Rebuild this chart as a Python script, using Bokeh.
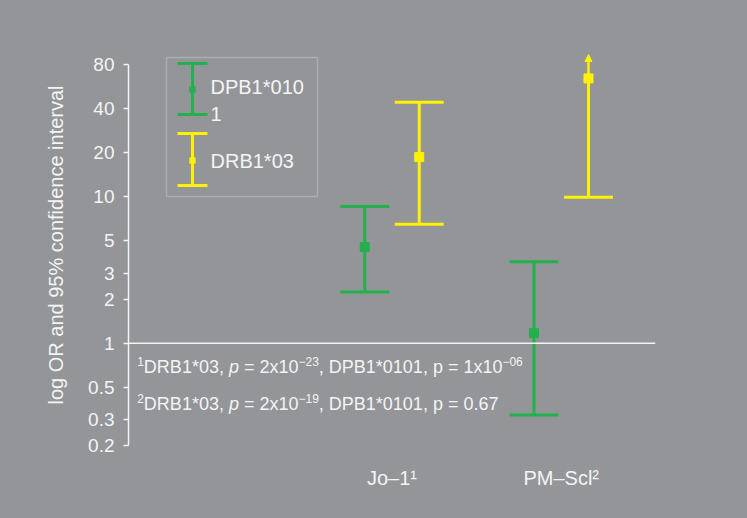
import numpy as np
from bokeh.plotting import figure
from bokeh.models import (ColumnDataSource, Range1d, FixedTicker, Span, Label,
                          Arrow, TeeHead, NormalHead, BoxAnnotation)
from bokeh.embed import file_html
from bokeh.resources import INLINE

# ---------------- data ----------------
categories = ["Jo-1", "PM-Scl"]
category_labels = ["Jo–1¹", "PM–Scl²"]
series_names = ["DPB1*0101", "DRB1*03"]

dpb_or = [4.54, 1.17]
dpb_lower = [2.24, 0.323]
dpb_upper = [8.61, 3.60]

drb_or = [18.7, 64.5]
drb_lower = [6.49, 9.95]
drb_upper = [44.3, 94.0]
drb_upper_open = [False, True]

y_ticks = [0.2, 0.3, 0.5, 1, 2, 3, 5, 10, 20, 40, 80]
y_tick_labels = ["0.2", "0.3", "0.5", "1", "2", "3", "5", "10", "20", "40", "80"]

# footnotes: (text, kind) with kind n = normal, i = italic, s = superscript
footnote_1 = [("1", "s"), ("DRB1*03, ", "n"), ("p", "i"), (" = 2x10", "n"), ("−23", "s"),
              (", DPB1*0101, p = 1x10", "n"), ("−06", "s")]
footnote_2 = [("2", "s"), ("DRB1*03, ", "n"), ("p", "i"), (" = 2x10", "n"), ("−19", "s"),
              (", DPB1*0101, p = 0.67", "n")]

# ---------------- style ----------------
BG = "#939598"
FG = "#f4f4f4"
GREEN = "#22b14c"
YELLOW = "#fff200"
FONT = "Liberation Sans"

# Arial / Liberation Sans advance widths (1/1000 em) for laying out rich text
ADV = {' ': 278, ',': 278, '.': 278, '*': 389, '=': 584, '−': 584, 'x': 500, 'p': 556,
       'D': 722, 'R': 722, 'B': 667, 'P': 667}
def text_width(s, size):
    return sum(ADV.get(ch, 556) for ch in s) * size / 1000.0

cat_pos = np.arange(len(categories)) + 1.0
dodge = 0.161

p = figure(width=747, height=518, y_axis_type="log",
           x_range=Range1d(-0.557, 2.557), y_range=Range1d(0.2, 110),
           output_backend="svg", toolbar_location=None,
           min_border_left=128, min_border_right=92,
           min_border_top=44, min_border_bottom=73,
           background_fill_color=BG, border_fill_color=BG,
           outline_line_color=None)
p.styles = {"background-color": BG}
p.grid.visible = False

# y axis
ya = p.yaxis[0]
ya.ticker = FixedTicker(ticks=y_ticks, minor_ticks=[])
ya.major_label_overrides = {t: l for t, l in zip(y_ticks, y_tick_labels)}
ya.bounds = (y_ticks[0], y_ticks[-1])
ya.axis_line_color = FG
ya.axis_line_width = 1.5
ya.major_tick_line_color = FG
ya.major_tick_line_width = 1.5
ya.major_tick_in = 0
ya.major_tick_out = 5
ya.minor_tick_line_color = None
ya.major_label_text_color = FG
ya.major_label_text_font = FONT
ya.major_label_text_font_size = "19px"
ya.major_label_standoff = 9
ya.axis_label = "log OR and 95% confidence interval"
ya.axis_label_text_color = FG
ya.axis_label_text_font = FONT
ya.axis_label_text_font_size = "20px"
ya.axis_label_text_font_style = "normal"
ya.axis_label_standoff = 18

# x axis
xa = p.xaxis[0]
xa.ticker = FixedTicker(ticks=list(cat_pos), minor_ticks=[])
xa.major_label_overrides = {int(x): l for x, l in zip(cat_pos, category_labels)}
xa.axis_line_color = None
xa.major_tick_line_color = None
xa.minor_tick_line_color = None
xa.major_label_text_color = FG
xa.major_label_text_font = FONT
xa.major_label_text_font_size = "20px"
xa.major_label_standoff = 15

# reference line at OR = 1
p.add_layout(Span(location=1, dimension="width", line_color=FG, line_width=1.5))

def draw_series(xs, ors, lows, ups, color, open_up=None):
    xs = np.asarray(xs, dtype=float)
    ors = np.asarray(ors, dtype=float)
    lows = np.asarray(lows, dtype=float)
    ups = np.asarray(ups, dtype=float)
    if open_up is None:
        open_up = np.zeros(len(xs), dtype=bool)
    open_up = np.asarray(open_up, dtype=bool)
    closed = ~open_up
    p.segment(x0=xs[closed], y0=lows[closed], x1=xs[closed], y1=ups[closed],
              line_color=color, line_width=3)
    p.segment(x0=xs[open_up], y0=lows[open_up], x1=xs[open_up], y1=ors[open_up],
              line_color=color, line_width=3)
    p.scatter(xs, lows, marker="dash", size=49, line_color=color, line_width=3)
    p.scatter(xs[closed], ups[closed], marker="dash", size=49, line_color=color, line_width=3)
    if open_up.any():
        src = ColumnDataSource(dict(x=xs[open_up], y0=ors[open_up], y1=ups[open_up]))
        p.add_layout(Arrow(x_start="x", y_start="y0", x_end="x", y_end="y1", source=src,
                           line_color=color, line_width=2.5,
                           end=NormalHead(size=7, fill_color=color, line_color=color, line_width=1)))
    p.scatter(xs, ors, marker="square", size=9, fill_color=color, line_color=color)

draw_series(cat_pos - dodge, dpb_or, dpb_lower, dpb_upper, GREEN)
draw_series(cat_pos + dodge, drb_or, drb_lower, drb_upper, YELLOW, drb_upper_open)

# ---------------- legend (screen units, frame-relative) ----------------
p.add_layout(BoxAnnotation(left=38, right=189, top=388, bottom=249,
                           left_units="screen", right_units="screen",
                           top_units="screen", bottom_units="screen",
                           fill_alpha=0, line_color="#e6e6e6", line_width=1.5))

def legend_item(y_lo, y_hi, y_mid, color, text, text_y):
    p.add_layout(Arrow(x_start=64, y_start=y_lo, x_end=64, y_end=y_hi,
                       start_units="screen", end_units="screen",
                       line_color=color, line_width=3,
                       start=TeeHead(size=30, line_color=color, line_width=3),
                       end=TeeHead(size=30, line_color=color, line_width=3)))
    p.add_layout(BoxAnnotation(left=61, right=67, bottom=y_mid - 3, top=y_mid + 3,
                               left_units="screen", right_units="screen",
                               top_units="screen", bottom_units="screen",
                               fill_color=color, fill_alpha=1, line_color=color))
    p.add_layout(Label(x=82, y=text_y, x_units="screen", y_units="screen", text=text,
                       text_color=FG, text_font=FONT, text_font_size="20px",
                       text_baseline="middle", text_align="left"))

legend_item(331, 382, 356, GREEN, series_names[0][:-1] + "\n" + series_names[0][-1], 345)
legend_item(260, 312, 285, YELLOW, series_names[1], 285)

# ---------------- footnotes ----------------
BASE, SUP, RAISE = 18, 12, 5.5
for pieces, yc in ((footnote_1, 79), (footnote_2, 41.5)):
    x = 8.7
    for txt, kind in pieces:
        size = SUP if kind == "s" else BASE
        lead = len(txt) - len(txt.lstrip(" "))
        x += text_width(" " * lead, size)
        txt = txt.lstrip(" ")
        p.add_layout(Label(x=x, y=yc + (RAISE if kind == "s" else 0),
                           x_units="screen", y_units="screen", text=txt,
                           text_color=FG, text_font=FONT, text_font_size=f"{size}px",
                           text_font_style="italic" if kind == "i" else "normal",
                           text_baseline="middle", text_align="left"))
        x += text_width(txt, size)

open("out.html", "w").write(file_html(p, INLINE))
